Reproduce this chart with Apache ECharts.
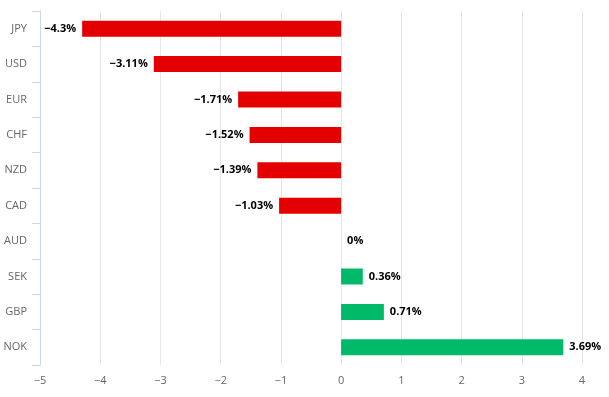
<!DOCTYPE html>
<html>
<head>
<meta charset="utf-8">
<script src="https://cdn.jsdelivr.net/npm/echarts@6/dist/echarts.min.js"></script>
<style>
    html, body { margin: 0; padding: 0; background: #fff; }
    #chart { width: 609px; height: 397px; }
</style>
</head>
<body>
<div id="chart"></div>
<script>
/* ------------------------------------ 数据 ------------------------------------ */
let currencies = ['JPY', 'USD', 'EUR', 'CHF', 'NZD', 'CAD', 'AUD', 'SEK', 'GBP', 'NOK'];
let changes = [-4.3, -3.11, -1.71, -1.52, -1.39, -1.03, 0, 0.36, 0.71, 3.69];
let xTicks = [-5, -4, -3, -2, -1, 0, 1, 2, 3, 4];

let minus = function (v) {
    return String(v).replace('-', '\u2212');
};

/* ------------------------------------ 配置 ------------------------------------ */
let option = {
    animation: false,
    textStyle: { fontFamily: 'Open Sans' },
    grid: {
        left: 40,
        right: 27,
        top: 11,
        bottom: 32
    },
    xAxis: {
        type: 'value',
        min: xTicks[0],
        max: xTicks[xTicks.length - 1],
        interval: 1,
        axisLine: { show: false },
        axisTick: { show: false },
        axisLabel: {
            color: '#666',
            fontSize: 11,
            margin: 10,
            formatter: function (v) { return minus(v); }
        },
        splitLine: { lineStyle: { color: '#e6e6e6' } }
    },
    yAxis: {
        type: 'category',
        inverse: true,
        data: currencies,
        axisLine: { show: true, onZero: false, lineStyle: { color: '#ccd6eb' } },
        axisTick: { show: true, length: 8, lineStyle: { color: '#ccd6eb' } },
        axisLabel: { color: '#666', fontSize: 11, margin: 13 },
        splitLine: { show: false }
    },
    series: [
        {
            type: 'bar',
            barWidth: 16,
            data: changes.map(function (v) {
                return {
                    value: v,
                    itemStyle: { color: v < 0 ? '#e50000' : '#00ba69' },
                    label: { position: v < 0 ? 'left' : 'right' }
                };
            }),
            label: {
                show: true,
                color: '#000',
                fontSize: 11,
                fontWeight: 'bold',
                distance: 6,
                formatter: function (p) { return minus(p.value) + '%'; }
            }
        }
    ]
};

let myChart = echarts.init(document.querySelector('#chart'));
myChart.setOption(option);
</script>
</body>
</html>
